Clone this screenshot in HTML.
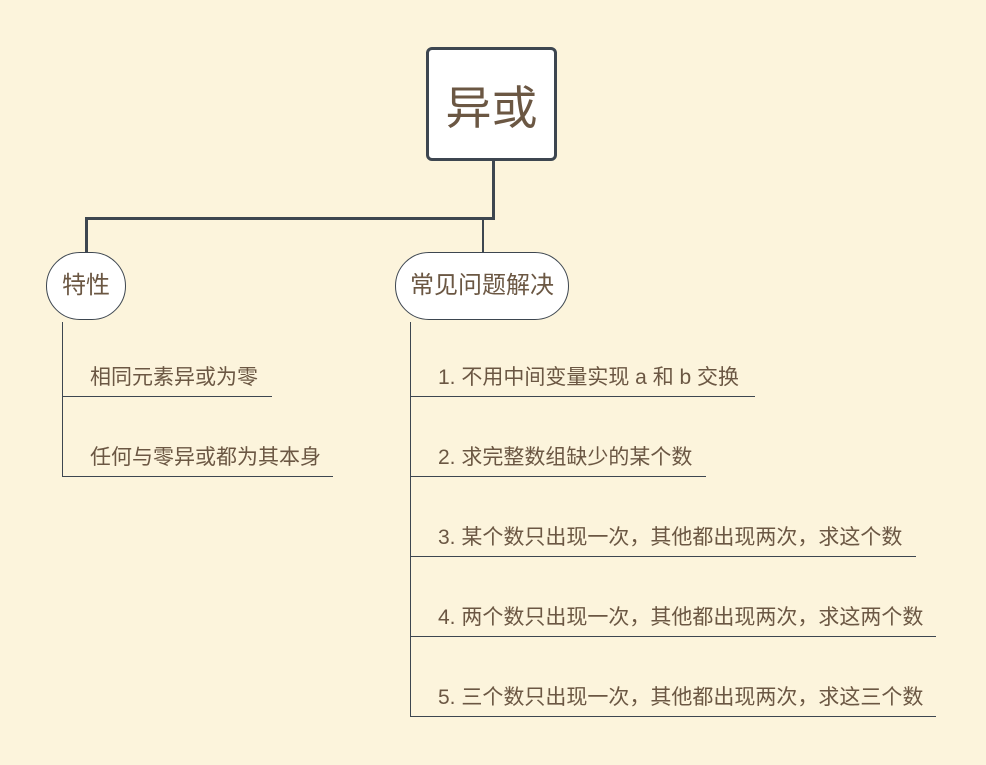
<!DOCTYPE html>
<html><head><meta charset="utf-8"><style>
body{margin:0;width:986px;height:765px;background:#fcf4dc;position:relative;overflow:hidden;font-family:"Liberation Sans","Noto Sans CJK SC",sans-serif;color:#6b5743}
.a{position:absolute}
.t{position:absolute;font-size:21px;line-height:24px;white-space:nowrap}
.h{position:absolute;height:1px;background:#3d4650}
.v{position:absolute;width:1px;background:#3d4650}
</style></head><body>
<div class="a" style="left:426px;top:47px;width:125px;height:108px;border:3px solid #3d4650;border-radius:6px;background:#fff;"></div>
<div class="t" style="left:426px;top:82px;width:131px;text-align:center;font-size:46px;line-height:52px;">异或</div>
<div class="a" style="left:492px;top:160px;width:3px;height:60px;background:#3d4650"></div>
<div class="a" style="left:85px;top:217px;width:410px;height:3px;background:#3d4650"></div>
<div class="a" style="left:85px;top:217px;width:3px;height:36px;background:#3d4650"></div>
<div class="a" style="left:482px;top:217px;width:2px;height:36px;background:#3d4650"></div>
<div class="a" style="left:46px;top:252px;width:78px;height:66px;border:1px solid #3d4650;border-radius:34px;background:#fff"></div>
<div class="t" style="left:46px;top:274px;width:80px;text-align:center;font-size:24px;">特性</div>
<div class="a" style="left:395px;top:252px;width:172px;height:66px;border:1px solid #3d4650;border-radius:34px;background:#fff"></div>
<div class="t" style="left:395px;top:274px;width:174px;text-align:center;font-size:24px;">常见问题解决</div>
<div class="v" style="left:62px;top:322px;height:155px"></div>
<div class="h" style="left:62px;top:396px;width:210px"></div>
<div class="h" style="left:62px;top:476px;width:271px"></div>
<div class="t" style="left:90px;top:366px">相同元素异或为零</div>
<div class="t" style="left:90px;top:446px">任何与零异或都为其本身</div>
<div class="v" style="left:410px;top:322px;height:395px"></div>
<div class="h" style="left:410px;top:396px;width:345px"></div>
<div class="h" style="left:410px;top:476px;width:296px"></div>
<div class="h" style="left:410px;top:556px;width:506px"></div>
<div class="h" style="left:410px;top:636px;width:526px"></div>
<div class="h" style="left:410px;top:716px;width:526px"></div>
<div class="t" style="left:438px;top:366px">1. 不用中间变量实现 a 和 b 交换</div>
<div class="t" style="left:438px;top:446px">2. 求完整数组缺少的某个数</div>
<div class="t" style="left:438px;top:526px">3. 某个数只出现一次，其他都出现两次，求这个数</div>
<div class="t" style="left:438px;top:606px">4. 两个数只出现一次，其他都出现两次，求这两个数</div>
<div class="t" style="left:438px;top:686px">5. 三个数只出现一次，其他都出现两次，求这三个数</div>
</body></html>
